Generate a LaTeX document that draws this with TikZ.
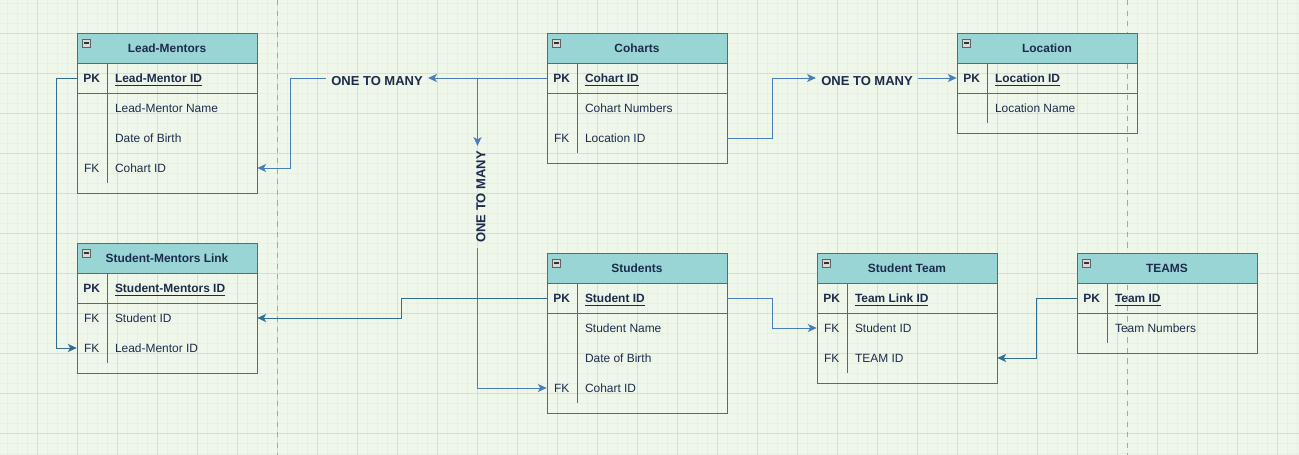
\documentclass[tikz,border=0pt]{standalone}
\usepackage{fontspec}
\setmainfont{Liberation Sans}
\usetikzlibrary{arrows.meta}

\definecolor{bgcol}{HTML}{EFF7EB}
\definecolor{gridmajor}{HTML}{D6DFD2}
\definecolor{gridminor}{HTML}{E8F0E4}
\definecolor{headcol}{HTML}{9AD5D6}
\definecolor{linecol}{HTML}{3A7399}
\definecolor{txtcol}{HTML}{1C2B4B}
\definecolor{linkblue}{HTML}{4A7EBB}
\definecolor{linkteal}{HTML}{2F6F94}

% table parts: name, left x, top y, ...
\newcommand{\erhead}[4]{%
  \node[tblhead] (#1) at (#2+90,#3+15) {#4};
  \draw[iconbox] (#2+5,#3+6) rectangle (#2+13,#3+14);
  \draw[iconbar] (#2+6.5,#3+10) -- (#2+11.5,#3+10);}
\newcommand{\erbody}[3]{%
  \draw[tblline] (#1,#2+30) rectangle (#1+180,#2+40+30*#3);
  \draw[tblline] (#1,#2+60) -- (#1+180,#2+60);
  \draw[tblline] (#1+30,#2+30) -- (#1+30,#2+30+30*#3);}
\newcommand{\errow}[5]{%
  \node[rowbox] (#1) at (#2+90,#3+15) {};
  \node[keytxt] at ([xshift=0.3cm]#1.west) {#4};
  \node[fieldtxt] at ([xshift=0.76cm]#1.west) {#5};}
\newcommand{\pkname}[1]{\underline{\textbf{#1}}}

\begin{document}
\begin{tikzpicture}[x=0.02cm, y=-0.02cm,
    tblhead/.style={draw=linecol, fill=headcol, line width=0.5pt, minimum width=3.6cm,
      minimum height=0.6cm, inner sep=0pt, text=txtcol, font=\fontsize{6.8}{8}\selectfont\bfseries},
    rowbox/.style={minimum width=3.6cm, minimum height=0.6cm, inner sep=0pt},
    keytxt/.style={text=txtcol, font=\fontsize{6.8}{8}\selectfont, inner sep=0pt,
      text height=5.4pt, text depth=0.5pt},
    fieldtxt/.style={keytxt, anchor=west},
    tblline/.style={draw=linecol, line width=0.5pt},
    iconbox/.style={draw=gray!75!black, fill=gray!30, line width=0.4pt},
    iconbar/.style={draw=black!80, line width=0.6pt},
    link/.style={draw=linkblue, line width=0.55pt, -{Stealth[length=5pt,width=4.6pt,inset=1.3pt]}},
    linkdark/.style={link, draw=linkteal},
    relabel/.style={text=txtcol, font=\fontsize{7.4}{9}\selectfont\bfseries, inner xsep=0.1cm, inner ysep=0pt}]

    % Background
    \useasboundingbox (0,0) rectangle (1299,455);
    \fill[bgcol] (0,0) rectangle (1299,455);

    % Grid
    \foreach \x in {7,17,...,1297} \draw[gridminor, line width=0.3pt] (\x,0) -- (\x,455);
    \foreach \y in {3,13,...,453} \draw[gridminor, line width=0.3pt] (0,\y) -- (1299,\y);
    \foreach \x in {37,77,...,1277} \draw[gridmajor, line width=0.45pt] (\x,0) -- (\x,455);
    \foreach \y in {33,73,...,433} \draw[gridmajor, line width=0.45pt] (0,\y) -- (1299,\y);
    \draw[gray!70, dashed, line width=0.45pt] (277,0) -- (277,455);
    \draw[gray!70, dashed, line width=0.45pt] (1127,0) -- (1127,455);

    % Lead-Mentors
    \erbody{77}{33}{4}
    \erhead{lm}{77}{33}{Lead-Mentors}
    \errow{lm-pk}{77}{63}{\textbf{PK}}{\pkname{Lead-Mentor ID}}
    \errow{lm-name}{77}{93}{}{Lead-Mentor Name}
    \errow{lm-dob}{77}{123}{}{Date of Birth}
    \errow{lm-fk}{77}{153}{FK}{Cohart ID}

    % Coharts
    \erbody{547}{33}{3}
    \erhead{co}{547}{33}{Coharts}
    \errow{co-pk}{547}{63}{\textbf{PK}}{\pkname{Cohart ID}}
    \errow{co-num}{547}{93}{}{Cohart Numbers}
    \errow{co-fk}{547}{123}{FK}{Location ID}

    % Location
    \erbody{957}{33}{2}
    \erhead{lo}{957}{33}{Location}
    \errow{lo-pk}{957}{63}{\textbf{PK}}{\pkname{Location ID}}
    \errow{lo-name}{957}{93}{}{Location Name}

    % Student-Mentors Link
    \erbody{77}{243}{3}
    \erhead{sml}{77}{243}{Student-Mentors Link}
    \errow{sml-pk}{77}{273}{\textbf{PK}}{\pkname{Student-Mentors ID}}
    \errow{sml-st}{77}{303}{FK}{Student ID}
    \errow{sml-lm}{77}{333}{FK}{Lead-Mentor ID}

    % Students
    \erbody{547}{253}{4}
    \erhead{st}{547}{253}{Students}
    \errow{st-pk}{547}{283}{\textbf{PK}}{\pkname{Student ID}}
    \errow{st-name}{547}{313}{}{Student Name}
    \errow{st-dob}{547}{343}{}{Date of Birth}
    \errow{st-fk}{547}{373}{FK}{Cohart ID}

    % Student Team
    \erbody{817}{253}{3}
    \erhead{stt}{817}{253}{Student Team}
    \errow{stt-pk}{817}{283}{\textbf{PK}}{\pkname{Team Link ID}}
    \errow{stt-st}{817}{313}{FK}{Student ID}
    \errow{stt-tm}{817}{343}{FK}{TEAM ID}

    % TEAMS
    \erbody{1077}{253}{2}
    \erhead{tm}{1077}{253}{TEAMS}
    \errow{tm-pk}{1077}{283}{\textbf{PK}}{\pkname{Team ID}}
    \errow{tm-num}{1077}{313}{}{Team Numbers}

    % Relation labels
    \node[relabel] (otm1) at (377,81) {ONE TO MANY};
    \node[relabel] (otm3) at (867,81) {ONE TO MANY};
    \node[relabel, rotate=90] (otm2) at (481,197) {ONE TO MANY};
    \coordinate (fork) at (477.5,78);

    % Connectors
    \draw[link] (co-pk.west) -- (otm1.east |- co-pk.west);
    \draw[link] (otm1.west |- co-pk.west) -- ++(-35,0) |- (lm-fk.east);
    \draw[link] (fork) -- (fork |- otm2.east);
    \draw[link] (fork |- otm2.west) |- (st-fk.west);
    \draw[link] (co-fk.east) -- ++(45,0) |- (otm3.west |- lo-pk.west);
    \draw[link] (otm3.east |- lo-pk.west) -- (lo-pk.west);
    \draw[linkdark] (st-pk.west) -- ++(-145,0) |- (sml-st.east);
    \draw[linkdark] (lm-pk.west) -- ++(-20,0) |- (sml-lm.west);
    \draw[link] (st-pk.east) -- ++(45,0) |- (stt-st.west);
    \draw[linkdark] (tm-pk.west) -- ++(-40,0) |- (stt-tm.east);
\end{tikzpicture}
\end{document}
